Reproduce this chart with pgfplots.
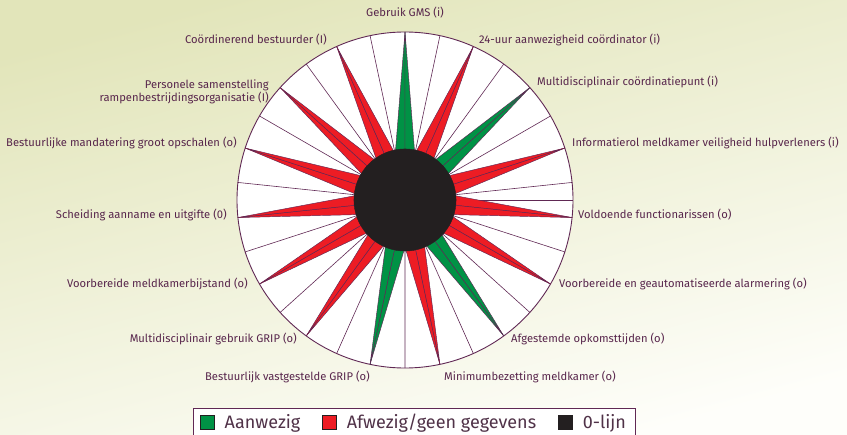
\documentclass[border=0pt]{standalone}
\usepackage{pgfplots}
\pgfplotsset{compat=1.18}
\usepgfplotslibrary{polar}
\usepackage{fontspec}
\setmainfont{Fira Sans}
\definecolor{groen}{RGB}{0,146,69}
\definecolor{rood}{RGB}{237,28,36}
\definecolor{zwart}{RGB}{35,31,32}
\definecolor{paars}{RGB}{96,40,84}
\definecolor{lbl}{RGB}{88,38,76}
\definecolor{legtxt}{RGB}{80,50,72}
\definecolor{bgtop}{RGB}{226,229,186}
\definecolor{bgbot}{RGB}{254,254,250}
\pgfplotsset{spk/.style={draw=paars, line width=0.45pt, mark=none, line join=miter}}
\newcommand{\spoke}[4]{%
 \addplot[spk,fill=#4] coordinates {(#1,0.28) (#1,1) (#2,0.28)} --cycle;
 \addplot[spk,fill=#4] coordinates {(#1,0.28) (#1,1) (#3,0.28)} --cycle;}
\newcommand{\lblfont}{\fontsize{11.2bp}{12.8bp}\selectfont}
\begin{document}
\begin{tikzpicture}
\useasboundingbox (0,0) rectangle (847bp,435bp);
\shade[top color=bgtop, bottom color=bgbot, shading angle=15] (-5bp,-5bp) rectangle (852bp,440bp);
\fill[white] (405bp,235bp) circle (168bp);
\begin{polaraxis}[
  at={(405bp,235bp)}, anchor=center,
  width=336bp, height=336bp, scale only axis,
  ymin=0, ymax=1,
  xtick={6,18,...,354}, xticklabels={}, ytick=\empty,
  xmajorgrids=true, ymajorgrids=false,
  major grid style={draw=paars, line width=0.6pt},
  axis line style={draw=paars, line width=0.9pt},
  xtick style={draw=none},
  clip=false,
  legend columns=3,
  legend style={at={(0.527,-0.119)}, anchor=north, draw=paars, line width=0.9pt, fill=white,
    font=\fontsize{18bp}{20bp}\selectfont, text=legtxt, inner xsep=7bp, inner ysep=4bp,
    /tikz/every odd column/.append style={column sep=8bp},
    /tikz/every even column/.append style={column sep=20bp}},
  legend image code/.code={\draw[#1, line width=0.6pt] (0bp,-7bp) rectangle (14bp,7bp);},
]
\addlegendimage{draw=zwart, fill=groen}
\addlegendentry{Aanwezig}
\addlegendimage{draw=zwart, fill=rood}
\addlegendentry{Afwezig/geen gegevens}
\addlegendimage{draw=zwart, fill=zwart}
\addlegendentry{0-lijn}
% spokes: angle, angle+12, angle-12, colour
\spoke{90}{102}{78}{groen}
\spoke{66}{78}{54}{rood}
\spoke{42}{54}{30}{groen}
\spoke{18}{30}{6}{rood}
\spoke{-6}{6}{-18}{rood}
\spoke{-30}{-18}{-42}{rood}
\spoke{-54}{-42}{-66}{groen}
\spoke{-78}{-66}{-90}{rood}
\spoke{-102}{-90}{-114}{groen}
\spoke{-126}{-114}{-138}{rood}
\spoke{-150}{-138}{-162}{rood}
\spoke{-174}{-162}{-186}{rood}
\spoke{162}{174}{150}{rood}
\spoke{138}{150}{126}{rood}
\spoke{114}{126}{102}{rood}
% 0-lijn
\addplot[fill=zwart, draw=zwart, mark=none] coordinates {
(0,0.304) (5,0.304) (10,0.304) (15,0.304) (20,0.304) (25,0.304) (30,0.304) (35,0.304) (40,0.304) (45,0.304)
(50,0.304) (55,0.304) (60,0.304) (65,0.304) (70,0.304) (75,0.304) (80,0.304) (85,0.304) (90,0.304) (95,0.304)
(100,0.304) (105,0.304) (110,0.304) (115,0.304) (120,0.304) (125,0.304) (130,0.304) (135,0.304) (140,0.304) (145,0.304)
(150,0.304) (155,0.304) (160,0.304) (165,0.304) (170,0.304) (175,0.304) (180,0.304) (185,0.304) (190,0.304) (195,0.304)
(200,0.304) (205,0.304) (210,0.304) (215,0.304) (220,0.304) (225,0.304) (230,0.304) (235,0.304) (240,0.304) (245,0.304)
(250,0.304) (255,0.304) (260,0.304) (265,0.304) (270,0.304) (275,0.304) (280,0.304) (285,0.304) (290,0.304) (295,0.304)
(300,0.304) (305,0.304) (310,0.304) (315,0.304) (320,0.304) (325,0.304) (330,0.304) (335,0.304) (340,0.304) (345,0.304)
(350,0.304) (355,0.304)} --cycle;
\end{polaraxis}
\begin{scope}[every node/.style={text=lbl, font=\lblfont, inner sep=0pt}]
\node[anchor=mid] at (405bp,421bp) {Gebruik GMS (i)};
\node[anchor=mid west] at (479bp,394bp) {24-uur aanwezigheid coördinator (i)};
\node[anchor=mid west] at (537bp,352bp) {Multidisciplinair coördinatiepunt (i)};
\node[anchor=mid west] at (572bp,291bp) {Informatierol meldkamer veiligheid hulpverleners (i)};
\node[anchor=mid west] at (578bp,219bp) {Voldoende functionarissen (o)};
\node[anchor=mid west] at (559bp,150bp) {Voorbereide en geautomatiseerde alarmering (o)};
\node[anchor=mid west] at (511bp,95bp) {Afgestemde opkomsttijden (o)};
\node[anchor=mid west] at (444bp,57bp) {Minimumbezetting meldkamer (o)};
\node[anchor=mid east] at (370bp,57bp) {Bestuurlijk vastgestelde GRIP (o)};
\node[anchor=mid east] at (297bp,95bp) {Multidisciplinair gebruik GRIP (o)};
\node[anchor=mid east] at (248bp,150bp) {Voorbereide meldkamerbijstand (o)};
\node[anchor=mid east] at (227bp,219bp) {Scheiding aanname en uitgifte (0)};
\node[anchor=mid east] at (237bp,291bp) {Bestuurlijke mandatering groot opschalen (o)};
\node[anchor=east, align=right] at (269bp,343bp) {Personele samenstelling\\rampenbestrijdingsorganisatie (I)};
\node[anchor=mid east] at (327bp,394bp) {Coördinerend bestuurder (I)};
\end{scope}
\end{tikzpicture}
\end{document}
